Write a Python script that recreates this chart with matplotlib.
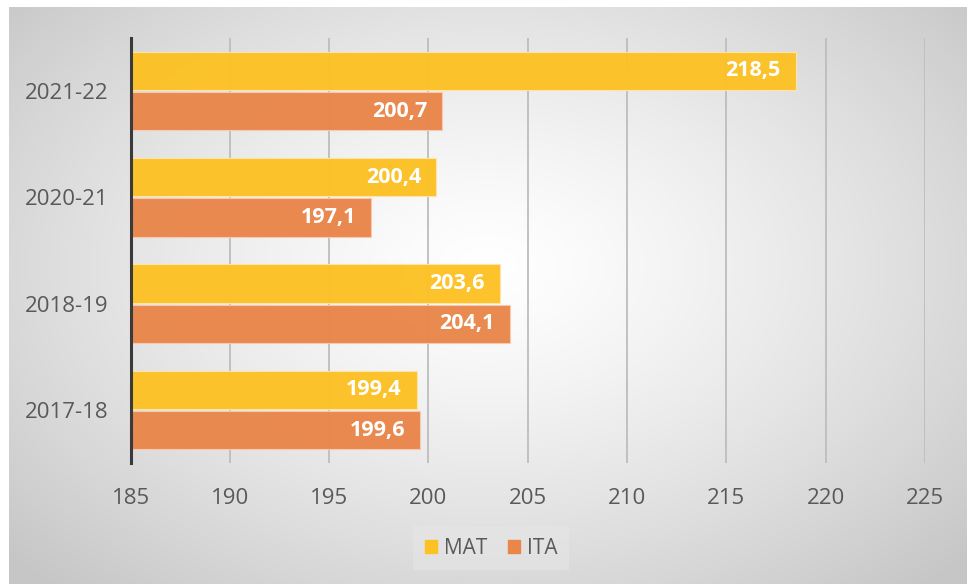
import numpy as np
import matplotlib
matplotlib.use('Agg')
import matplotlib.pyplot as plt
from matplotlib.patches import Patch

plt.rcParams['font.family'] = ['Open Sans', 'DejaVu Sans']

years = ['2017-18', '2018-19', '2020-21', '2021-22']
mat = [199.4, 203.6, 200.4, 218.5]
ita = [199.6, 204.1, 197.1, 200.7]
ticks = [185, 190, 195, 200, 205, 210, 215, 220, 225]

MAT_COL = '#FCC125'
ITA_COL = '#E9864A'
TXT = '#595959'

W, H = 967, 584
fig = plt.figure(figsize=(W / 100, H / 100), dpi=100)
fig.patch.set_facecolor('white')

# radial grey background of the chart area
bg = fig.add_axes([9 / W, 0, 1 - 9 / W, 1 - 7 / H])
bg.set_axis_off()
gx, gy = np.meshgrid(np.linspace(-1, 1, 400), np.linspace(-1, 1, 300))
r = np.sqrt(((gx - 0.0) / 1.0) ** 2 + ((gy + 0.1) / 1.1) ** 2)
r = np.clip(r / 1.35, 0, 1)
shade = 1.0 - 0.22 * r ** 1.3
bg.imshow(np.dstack([shade] * 3), aspect='auto', extent=[0, 1, 0, 1])

left, right = 130.5 / W, 925 / W
bottom, top = 1 - 463 / H, 1 - 38 / H
ax = fig.add_axes([left, bottom, right - left, top - bottom])
ax.patch.set_alpha(0)

y = np.arange(len(years))
off, h = 0.19, 0.36
ax.barh(y + off, np.array(mat) - 185, left=185, height=h, color=MAT_COL,
        edgecolor='#FFE6A6', linewidth=0.8, zorder=2, alpha=0.97)
ax.barh(y - off, np.array(ita) - 185, left=185, height=h, color=ITA_COL,
        edgecolor='#F8CBB0', linewidth=0.8, zorder=2, alpha=0.97)

for yy, v in zip(y + off, mat):
    ax.annotate(f'{v:.1f}'.replace('.', ','), (v, yy), xytext=(-10.8, 0),
                textcoords='offset points', ha='right', va='center',
                color='white', fontsize=15.5, fontweight='bold', zorder=3)
for yy, v in zip(y - off, ita):
    ax.annotate(f'{v:.1f}'.replace('.', ','), (v, yy), xytext=(-10.8, 0),
                textcoords='offset points', ha='right', va='center',
                color='white', fontsize=15.5, fontweight='bold', zorder=3)

ax.set_xlim(185, 225)
ax.set_ylim(-0.5, 3.5)
ax.set_xticks(ticks)
ax.set_yticks(y)
ax.set_yticklabels(years)
for t in ticks[1:]:
    ax.axvline(t, color='#BDBDBD', lw=1.3, zorder=1)

for s in ['top', 'right', 'bottom']:
    ax.spines[s].set_visible(False)
ax.spines['left'].set_color('#3A3A3A')
ax.spines['left'].set_linewidth(2.2)
ax.spines['left'].set_zorder(4)
ax.tick_params(axis='both', length=0, labelsize=16, labelcolor=TXT)
ax.tick_params(axis='x', pad=18)
ax.tick_params(axis='y', pad=16)

handles = [Patch(color=MAT_COL, label='MAT'), Patch(color=ITA_COL, label='ITA')]
leg = fig.legend(handles=handles, loc='center', bbox_to_anchor=(491 / W, 1 - 548 / H),
                 ncol=2, frameon=True, fontsize=15, handlelength=0.6, handleheight=0.6,
                 handletextpad=0.3, columnspacing=1.0, borderpad=0.55)
leg.get_frame().set_facecolor('#E6E6E6')
leg.get_frame().set_alpha(0.6)
leg.get_frame().set_edgecolor('none')
leg.get_frame().set_boxstyle('square', pad=0)
for t in leg.get_texts():
    t.set_color(TXT)

fig.savefig('out.png', dpi=100)
